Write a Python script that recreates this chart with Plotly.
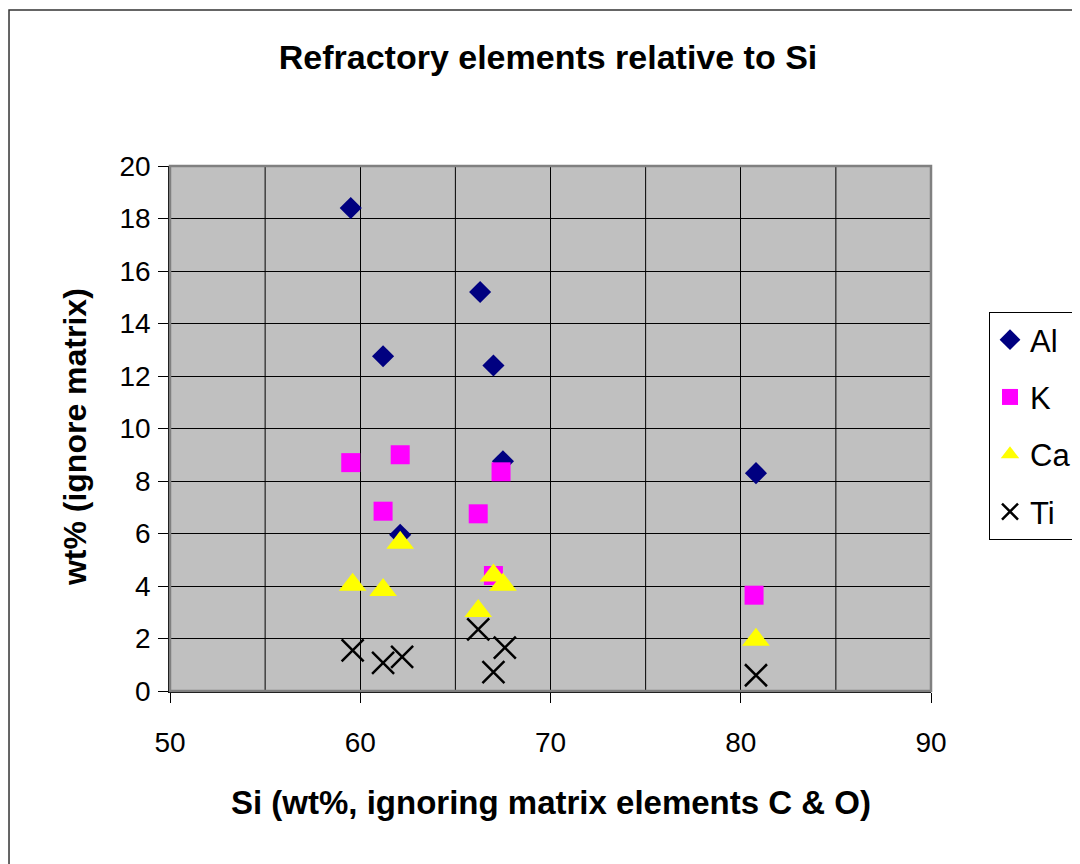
import plotly.graph_objects as go

si_al = [59.5, 61.2, 62.1, 66.3, 67.0, 67.5, 80.8]
al = [18.4, 12.75, 5.95, 15.2, 12.4, 8.75, 8.3]
si_k = [59.5, 61.2, 62.1, 66.2, 67.0, 67.4, 80.7]
k = [8.7, 6.85, 9.0, 6.75, 4.4, 8.35, 3.65]
si_ca = [59.6, 61.2, 62.1, 66.2, 67.0, 67.5, 80.8]
ca = [4.05, 3.85, 5.65, 3.05, 4.4, 4.05, 1.95]
si_ti = [59.6, 61.2, 62.2, 66.2, 67.0, 67.6, 80.8]
ti = [1.55, 1.07, 1.3, 2.35, 0.72, 1.65, 0.6]

x_ticks = [50, 60, 70, 80, 90]
y_ticks = [0, 2, 4, 6, 8, 10, 12, 14, 16, 18, 20]

FONT = "Liberation Sans, Arial, sans-serif"

fig = go.Figure()
fig.add_trace(go.Scatter(x=si_al, y=al, mode="markers", name="Al", legendgroup="a",
                         marker=dict(symbol="diamond", size=17, color="#000080")))
fig.add_trace(go.Scatter(x=si_k, y=k, mode="markers", name="K", legendgroup="b",
                         marker=dict(symbol="square", size=19, color="#FF00FF")))
fig.add_trace(go.Scatter(x=si_ca, y=ca, mode="markers", name="Ca", legendgroup="c",
                         marker=dict(symbol="triangle-up", size=24, color="#FFFF00")))
fig.add_trace(go.Scatter(x=si_ti, y=ti, mode="markers", name="Ti", legendgroup="d",
                         marker=dict(symbol="x-thin", size=22, color="black",
                                     line=dict(color="black", width=2.5))))

# page is offset by 8px (body margin); positions below are in reference pixels minus 8
OFF = 8
PL, PR, PT, PB = 170 - OFF, 932 - OFF, 166 - OFF, 691 - OFF
W, H = 1080, 864
L, R, T, B = PL, W - PR, PT, H - PB
pw, ph = PR - PL, PB - PT

def px(x):
    return (x - OFF - L) / pw

def py(y):
    return (PB - (y - OFF)) / ph

fig.update_layout(
    width=W, height=H,
    margin=dict(l=L, r=R, t=T, b=B),
    paper_bgcolor="white",
    plot_bgcolor="#C0C0C0",
    font=dict(family=FONT, size=28, color="black"),
    title=dict(text="<b>Refractory elements relative to Si</b>", x=0.5, xanchor="center",
               y=1 - (57 - OFF) / H, yanchor="middle", font=dict(size=34)),
    xaxis=dict(range=[50, 90], tickvals=x_ticks, showgrid=True, gridcolor="black", gridwidth=1,
               showline=True, linecolor="black", linewidth=1.5, ticks="outside", ticklen=10,
               tickcolor="black", zeroline=False, ticklabelstandoff=16),
    yaxis=dict(range=[0, 20], tickvals=y_ticks, showgrid=True, gridcolor="black", gridwidth=1,
               showline=True, linecolor="black", linewidth=1.5, ticks="outside", ticklen=10,
               tickcolor="black", zeroline=False, ticklabelstandoff=2),
    legend=dict(x=px(989), y=py(312), xanchor="left", yanchor="top",
                bordercolor="black", borderwidth=1, bgcolor="white",
                font=dict(size=31), tracegroupgap=14, itemsizing="trace"),
    showlegend=True,
)

fig.add_annotation(text="<b>Si (wt%, ignoring matrix elements C & O)</b>", xref="paper", yref="paper",
                   x=px(551), y=py(802), xanchor="center", yanchor="middle", showarrow=False,
                   font=dict(size=33))
fig.add_annotation(text="<b>wt% (ignore matrix)</b>", xref="paper", yref="paper",
                   x=px(75), y=py(437), xanchor="center", yanchor="middle", showarrow=False,
                   textangle=-90, font=dict(size=32))

# vertical gridlines every 5
for xv in [55, 65, 75, 85]:
    fig.add_shape(type="line", xref="x", yref="paper", x0=xv, x1=xv, y0=0, y1=1,
                  line=dict(color="black", width=1), layer="below")

# plot area border
fig.add_shape(type="rect", xref="paper", yref="paper", x0=0, x1=1, y0=0, y1=1,
              line=dict(color="#808080", width=2.5))

# outer chart frame (left and top visible)
fig.add_shape(type="rect", xref="paper", yref="paper",
              x0=px(8.8), x1=px(1200), y0=py(1000), y1=py(10),
              line=dict(color="#333333", width=1.5))

fig.write_html("out.html")
